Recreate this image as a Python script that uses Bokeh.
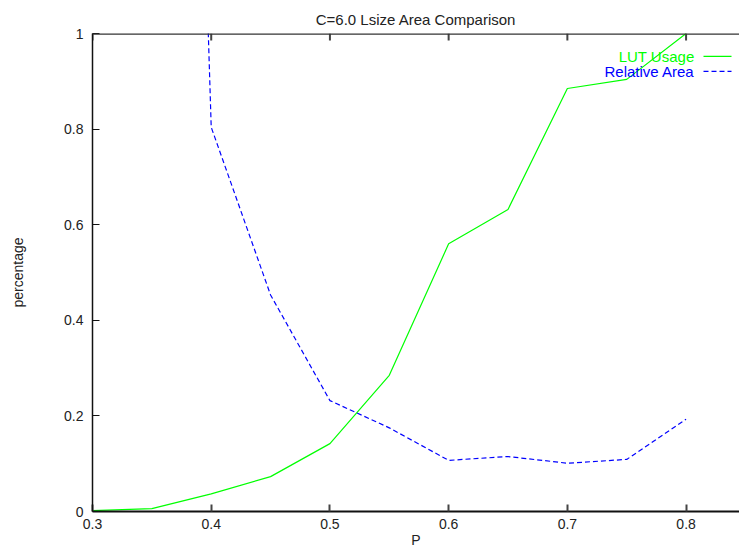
from bokeh.plotting import figure
from bokeh.models import FixedTicker, LinearAxis, Label, Range1d, Span
from bokeh.embed import file_html
from bokeh.resources import INLINE

# ---- data ----
p_values = [0.3, 0.35, 0.4, 0.45, 0.5, 0.55, 0.6, 0.65, 0.7, 0.75, 0.8]
lut_usage = [0.002, 0.006, 0.037, 0.073, 0.142, 0.285, 0.560, 0.632, 0.885, 0.904, 1.0]
area_p = [0.35, 0.4, 0.45, 0.5, 0.55, 0.6, 0.65, 0.7, 0.75, 0.8]
relative_area = [4.8, 0.804, 0.453, 0.232, 0.175, 0.107, 0.115, 0.101, 0.109, 0.193]
x_ticks = [0.3, 0.4, 0.5, 0.6, 0.7, 0.8]
y_ticks = [0, 0.2, 0.4, 0.6, 0.8, 1]
series_names = ["LUT Usage", "Relative Area"]
title_text = "C=6.0 Lsize Area Comparison"
x_label = "P"
y_label = "percentage"

X0, X1 = 0.3, 0.845
Y0, Y1 = 0.0, 1.0
FONT = "Liberation Sans"
GREEN = "#00ff00"
BLUE = "#0000ff"

p = figure(width=739, height=550, output_backend="svg", toolbar_location=None,
           x_range=Range1d(X0, X1), y_range=Range1d(Y0, Y1),
           min_border_left=92, min_border_right=0, min_border_top=33,
           min_border_bottom=37, x_axis_location=None, y_axis_location=None)
p.outline_line_color = None
p.grid.visible = False
p.background_fill_color = "white"
p.border_fill_color = "white"

p.title.text = title_text
p.title.align = "center"
p.title.text_font = FONT
p.title.text_font_size = "15px"
p.title.text_font_style = "normal"
p.title.text_color = "#222222"
p.title.standoff = 12

xaxis = LinearAxis(ticker=FixedTicker(ticks=x_ticks), axis_label=x_label)
xaxis.major_tick_in = 7
xaxis.major_tick_out = 0
xaxis.minor_tick_in = 0
xaxis.minor_tick_out = 0
xaxis.axis_line_width = 2
xaxis.axis_line_color = "#111111"
xaxis.major_tick_line_color = "#444444"
xaxis.major_tick_line_width = 2
xaxis.major_label_standoff = 7
xaxis.major_label_text_font = FONT
xaxis.major_label_text_font_size = "14px"
xaxis.major_label_text_color = "#222222"
xaxis.axis_label_standoff = 0
xaxis.axis_label_text_font = FONT
xaxis.axis_label_text_font_size = "14px"
xaxis.axis_label_text_font_style = "normal"
xaxis.axis_label_text_color = "#222222"
p.add_layout(xaxis, "below")

yaxis = LinearAxis(ticker=FixedTicker(ticks=y_ticks), axis_label=y_label)
yaxis.major_label_overrides = {0: "0", 1: "1"}
yaxis.major_tick_in = 7
yaxis.major_tick_out = 0
yaxis.minor_tick_in = 0
yaxis.minor_tick_out = 0
yaxis.axis_line_width = 1.5
yaxis.axis_line_color = "#111111"
yaxis.major_tick_line_color = "#111111"
yaxis.major_label_standoff = 9
yaxis.major_label_text_font = FONT
yaxis.major_label_text_font_size = "14px"
yaxis.major_label_text_color = "#222222"
yaxis.axis_label_standoff = 35
yaxis.axis_label_text_font = FONT
yaxis.axis_label_text_font_size = "14px"
yaxis.axis_label_text_font_style = "normal"
yaxis.axis_label_text_color = "#222222"
p.add_layout(yaxis, "left")

# top border line with mirrored ticks (gnuplot style)
p.add_layout(Span(location=Y1, dimension="width", line_color="#333333", line_width=2.5))
ppx = (X1 - X0) / 647.0
ppy = (Y1 - Y0) / 479.0
p.segment(x0=x_ticks, y0=[Y1] * len(x_ticks), x1=x_ticks,
          y1=[Y1 - 7 * ppy] * len(x_ticks), line_color="#444444", line_width=2)

# ---- data lines ----
p.line(p_values, lut_usage, line_color=GREEN, line_width=1.2)
p.line(area_p, relative_area, line_color=BLUE, line_width=1.2, line_dash="5 3")

# ---- legend (gnuplot style: label then sample) ----
text_right = X1 - 45 * ppx
sample_x = [X1 - 36 * ppx, X1 - 8 * ppx]
rows_y = [Y1 - 23 * ppy, Y1 - 38 * ppy]
colors = [GREEN, BLUE]
dashes = ["solid", "5 3"]
for name, yy, c, d in zip(series_names, rows_y, colors, dashes):
    p.add_layout(Label(x=text_right, y=yy, text=name, text_align="right",
                       text_baseline="middle", text_color=c, text_font=FONT,
                       text_font_size="15px"))
    p.line(sample_x, [yy, yy], line_color=c, line_width=1.2, line_dash=d)

open("out.html", "w").write(file_html(p, INLINE))
